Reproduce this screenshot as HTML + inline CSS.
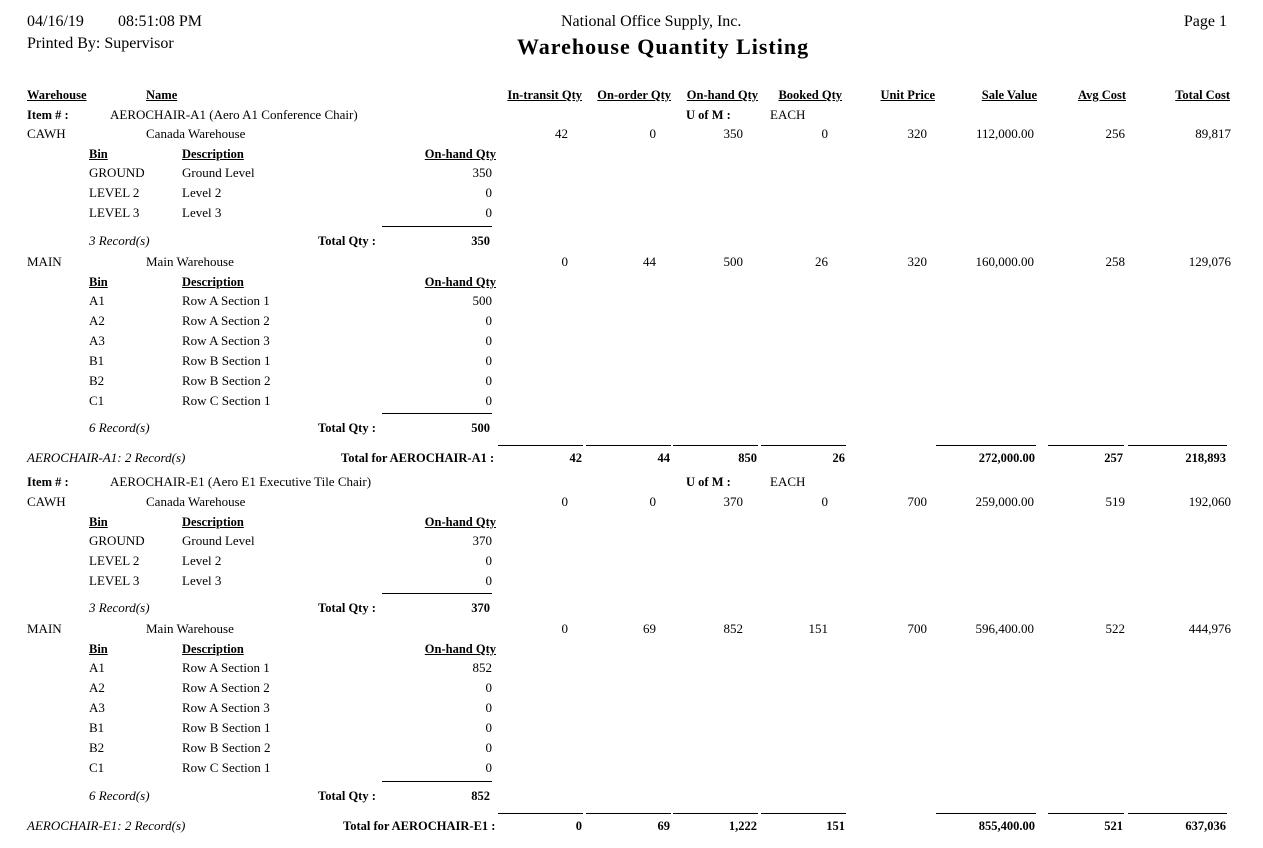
<!DOCTYPE html>
<html><head><meta charset="utf-8"><style>
body{margin:0;background:#fff;width:1263px;height:848px;position:relative;overflow:hidden;font-family:"Liberation Serif",serif;color:#000;font-size:13px}
div{position:absolute;line-height:18px;white-space:nowrap}
.r{transform:translateX(-100%)}
.b{font-weight:bold;font-size:12.5px}
.u{text-decoration:underline;font-weight:bold;font-size:12.5px}
.i{font-style:italic}
.ln{height:0;border-top:1px solid #000}
</style></head><body>
<div style="left:27px;top:13px;font-size:16px;line-height:18px">04/16/19</div>
<div style="left:118px;top:13px;font-size:16px;line-height:18px">08:51:08 PM</div>
<div style="left:27px;top:35px;font-size:16px;line-height:18px">Printed By: Supervisor</div>
<div style="left:561px;top:13px;font-size:16px;line-height:18px">National Office Supply, Inc.</div>
<div style="left:517px;top:34px;font-size:22px;line-height:26px;font-weight:bold;letter-spacing:1px">Warehouse Quantity Listing</div>
<div class="r" style="left:1227px;top:13px;font-size:16px;line-height:18px">Page 1</div>

<div class="u" style="left:27px;top:86px">Warehouse</div>
<div class="u" style="left:146px;top:86px">Name</div>
<div class="u r" style="left:582px;top:86px">In-transit Qty</div>
<div class="u r" style="left:671px;top:86px">On-order Qty</div>
<div class="u r" style="left:758px;top:86px">On-hand Qty</div>
<div class="u r" style="left:842px;top:86px">Booked Qty</div>
<div class="u r" style="left:935px;top:86px">Unit Price</div>
<div class="u r" style="left:1037px;top:86px">Sale Value</div>
<div class="u r" style="left:1126px;top:86px">Avg Cost</div>
<div class="u r" style="left:1230px;top:86px">Total Cost</div>

<div class="b" style="left:27px;top:106px">Item # :</div>
<div style="left:110px;top:106px">AEROCHAIR-A1 (Aero A1 Conference Chair)</div>
<div class="b" style="left:686px;top:106px">U of M :</div>
<div style="left:770px;top:106px">EACH</div>

<div style="left:27px;top:125px">CAWH</div><div style="left:146px;top:125px">Canada Warehouse</div>
<div class="r" style="left:568px;top:125px">42</div><div class="r" style="left:656px;top:125px">0</div><div class="r" style="left:743px;top:125px">350</div><div class="r" style="left:828px;top:125px">0</div><div class="r" style="left:927px;top:125px">320</div><div class="r" style="left:1034px;top:125px">112,000.00</div><div class="r" style="left:1125px;top:125px">256</div><div class="r" style="left:1231px;top:125px">89,817</div>
<div class="u" style="left:89px;top:145px">Bin</div><div class="u" style="left:182px;top:145px">Description</div><div class="u r" style="left:496px;top:145px">On-hand Qty</div>
<div style="left:89px;top:164px">GROUND</div><div style="left:182px;top:164px">Ground Level</div><div class="r" style="left:492px;top:164px">350</div>
<div style="left:89px;top:184px">LEVEL 2</div><div style="left:182px;top:184px">Level 2</div><div class="r" style="left:492px;top:184px">0</div>
<div style="left:89px;top:204px">LEVEL 3</div><div style="left:182px;top:204px">Level 3</div><div class="r" style="left:492px;top:204px">0</div>
<div class="ln" style="left:382px;top:226px;width:110px"></div>
<div class="i" style="left:89px;top:232px">3 Record(s)</div><div class="b" style="left:318px;top:232px">Total Qty :</div><div class="b r" style="left:490px;top:232px">350</div>

<div style="left:27px;top:253px">MAIN</div><div style="left:146px;top:253px">Main Warehouse</div>
<div class="r" style="left:568px;top:253px">0</div><div class="r" style="left:656px;top:253px">44</div><div class="r" style="left:743px;top:253px">500</div><div class="r" style="left:828px;top:253px">26</div><div class="r" style="left:927px;top:253px">320</div><div class="r" style="left:1034px;top:253px">160,000.00</div><div class="r" style="left:1125px;top:253px">258</div><div class="r" style="left:1231px;top:253px">129,076</div>
<div class="u" style="left:89px;top:273px">Bin</div><div class="u" style="left:182px;top:273px">Description</div><div class="u r" style="left:496px;top:273px">On-hand Qty</div>
<div style="left:89px;top:292px">A1</div><div style="left:182px;top:292px">Row A Section 1</div><div class="r" style="left:492px;top:292px">500</div>
<div style="left:89px;top:312px">A2</div><div style="left:182px;top:312px">Row A Section 2</div><div class="r" style="left:492px;top:312px">0</div>
<div style="left:89px;top:332px">A3</div><div style="left:182px;top:332px">Row A Section 3</div><div class="r" style="left:492px;top:332px">0</div>
<div style="left:89px;top:352px">B1</div><div style="left:182px;top:352px">Row B Section 1</div><div class="r" style="left:492px;top:352px">0</div>
<div style="left:89px;top:372px">B2</div><div style="left:182px;top:372px">Row B Section 2</div><div class="r" style="left:492px;top:372px">0</div>
<div style="left:89px;top:392px">C1</div><div style="left:182px;top:392px">Row C Section 1</div><div class="r" style="left:492px;top:392px">0</div>
<div class="ln" style="left:382px;top:413px;width:110px"></div>
<div class="i" style="left:89px;top:419px">6 Record(s)</div><div class="b" style="left:318px;top:419px">Total Qty :</div><div class="b r" style="left:490px;top:419px">500</div>

<div class="ln" style="left:498px;top:445px;width:85px"></div><div class="ln" style="left:586px;top:445px;width:85px"></div><div class="ln" style="left:673px;top:445px;width:85px"></div><div class="ln" style="left:761px;top:445px;width:85px"></div><div class="ln" style="left:936px;top:445px;width:100px"></div><div class="ln" style="left:1048px;top:445px;width:76px"></div><div class="ln" style="left:1128px;top:445px;width:99px"></div>
<div class="i" style="left:27px;top:449px">AEROCHAIR-A1: 2 Record(s)</div><div class="b" style="left:341px;top:449px">Total for AEROCHAIR-A1 :</div>
<div class="b r" style="left:582px;top:449px">42</div><div class="b r" style="left:670px;top:449px">44</div><div class="b r" style="left:757px;top:449px">850</div><div class="b r" style="left:845px;top:449px">26</div><div class="b r" style="left:1035px;top:449px">272,000.00</div><div class="b r" style="left:1123px;top:449px">257</div><div class="b r" style="left:1226px;top:449px">218,893</div>

<div class="b" style="left:27px;top:473px">Item # :</div>
<div style="left:110px;top:473px">AEROCHAIR-E1 (Aero E1 Executive Tile Chair)</div>
<div class="b" style="left:686px;top:473px">U of M :</div>
<div style="left:770px;top:473px">EACH</div>

<div style="left:27px;top:493px">CAWH</div><div style="left:146px;top:493px">Canada Warehouse</div>
<div class="r" style="left:568px;top:493px">0</div><div class="r" style="left:656px;top:493px">0</div><div class="r" style="left:743px;top:493px">370</div><div class="r" style="left:828px;top:493px">0</div><div class="r" style="left:927px;top:493px">700</div><div class="r" style="left:1034px;top:493px">259,000.00</div><div class="r" style="left:1125px;top:493px">519</div><div class="r" style="left:1231px;top:493px">192,060</div>
<div class="u" style="left:89px;top:513px">Bin</div><div class="u" style="left:182px;top:513px">Description</div><div class="u r" style="left:496px;top:513px">On-hand Qty</div>
<div style="left:89px;top:532px">GROUND</div><div style="left:182px;top:532px">Ground Level</div><div class="r" style="left:492px;top:532px">370</div>
<div style="left:89px;top:552px">LEVEL 2</div><div style="left:182px;top:552px">Level 2</div><div class="r" style="left:492px;top:552px">0</div>
<div style="left:89px;top:572px">LEVEL 3</div><div style="left:182px;top:572px">Level 3</div><div class="r" style="left:492px;top:572px">0</div>
<div class="ln" style="left:382px;top:593px;width:110px"></div>
<div class="i" style="left:89px;top:599px">3 Record(s)</div><div class="b" style="left:318px;top:599px">Total Qty :</div><div class="b r" style="left:490px;top:599px">370</div>

<div style="left:27px;top:620px">MAIN</div><div style="left:146px;top:620px">Main Warehouse</div>
<div class="r" style="left:568px;top:620px">0</div><div class="r" style="left:656px;top:620px">69</div><div class="r" style="left:743px;top:620px">852</div><div class="r" style="left:828px;top:620px">151</div><div class="r" style="left:927px;top:620px">700</div><div class="r" style="left:1034px;top:620px">596,400.00</div><div class="r" style="left:1125px;top:620px">522</div><div class="r" style="left:1231px;top:620px">444,976</div>
<div class="u" style="left:89px;top:640px">Bin</div><div class="u" style="left:182px;top:640px">Description</div><div class="u r" style="left:496px;top:640px">On-hand Qty</div>
<div style="left:89px;top:659px">A1</div><div style="left:182px;top:659px">Row A Section 1</div><div class="r" style="left:492px;top:659px">852</div>
<div style="left:89px;top:679px">A2</div><div style="left:182px;top:679px">Row A Section 2</div><div class="r" style="left:492px;top:679px">0</div>
<div style="left:89px;top:699px">A3</div><div style="left:182px;top:699px">Row A Section 3</div><div class="r" style="left:492px;top:699px">0</div>
<div style="left:89px;top:719px">B1</div><div style="left:182px;top:719px">Row B Section 1</div><div class="r" style="left:492px;top:719px">0</div>
<div style="left:89px;top:739px">B2</div><div style="left:182px;top:739px">Row B Section 2</div><div class="r" style="left:492px;top:739px">0</div>
<div style="left:89px;top:759px">C1</div><div style="left:182px;top:759px">Row C Section 1</div><div class="r" style="left:492px;top:759px">0</div>
<div class="ln" style="left:382px;top:781px;width:110px"></div>
<div class="i" style="left:89px;top:787px">6 Record(s)</div><div class="b" style="left:318px;top:787px">Total Qty :</div><div class="b r" style="left:490px;top:787px">852</div>

<div class="ln" style="left:498px;top:813px;width:85px"></div><div class="ln" style="left:586px;top:813px;width:85px"></div><div class="ln" style="left:673px;top:813px;width:85px"></div><div class="ln" style="left:761px;top:813px;width:85px"></div><div class="ln" style="left:936px;top:813px;width:100px"></div><div class="ln" style="left:1048px;top:813px;width:76px"></div><div class="ln" style="left:1128px;top:813px;width:99px"></div>
<div class="i" style="left:27px;top:817px">AEROCHAIR-E1: 2 Record(s)</div><div class="b" style="left:343px;top:817px">Total for AEROCHAIR-E1 :</div>
<div class="b r" style="left:582px;top:817px">0</div><div class="b r" style="left:670px;top:817px">69</div><div class="b r" style="left:757px;top:817px">1,222</div><div class="b r" style="left:845px;top:817px">151</div><div class="b r" style="left:1035px;top:817px">855,400.00</div><div class="b r" style="left:1123px;top:817px">521</div><div class="b r" style="left:1226px;top:817px">637,036</div>
</body></html>
